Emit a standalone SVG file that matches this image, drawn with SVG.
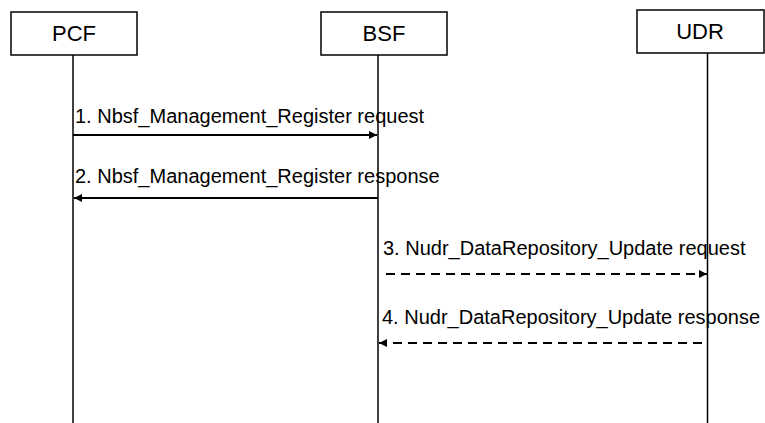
<svg xmlns="http://www.w3.org/2000/svg" width="765" height="423" viewBox="0 0 765 423">
<style>
.box{fill:#fff;stroke:#000;stroke-width:1.5}
.life{stroke:#000;stroke-width:1.5;fill:none}
.name{font-family:"Liberation Sans",Arial,sans-serif;font-size:22px;fill:#000;text-anchor:middle}
.lbl{font-family:"Liberation Sans",Arial,sans-serif;font-size:20px;fill:#000}
.msg{stroke:#000;stroke-width:2;fill:none}
.dash{stroke-dasharray:9 6}
</style>
<defs>
<marker id="ah" markerWidth="8" markerHeight="8" refX="8" refY="4" orient="auto" markerUnits="userSpaceOnUse">
<path d="M0,0 L8,4 L0,8 Z" fill="#000"/>
</marker>
</defs>
<g id="PCF">
<rect class="box" x="11" y="12" width="126" height="43"/>
<text class="name" x="74" y="41">PCF</text>
<line class="life" x1="73" y1="55" x2="73" y2="423"/>
</g>
<g id="BSF">
<rect class="box" x="321" y="12" width="126" height="43"/>
<text class="name" x="384" y="41">BSF</text>
<line class="life" x1="378" y1="55" x2="378" y2="423"/>
</g>
<g id="UDR">
<rect class="box" x="637" y="10" width="127" height="43"/>
<text class="name" x="700" y="39">UDR</text>
<line class="life" x1="707.5" y1="53" x2="707.5" y2="423"/>
</g>
<g id="connectors">
<line class="msg" x1="73" y1="135" x2="377" y2="135" marker-end="url(#ah)"/>
<text class="lbl" x="75" y="123">1. Nbsf_Management_Register request</text>
<line class="msg" x1="378" y1="198" x2="74" y2="198" marker-end="url(#ah)"/>
<text class="lbl" x="75" y="183">2. Nbsf_Management_Register response</text>
<line class="msg dash" x1="386" y1="274" x2="707" y2="274" marker-end="url(#ah)"/>
<text class="lbl" x="383" y="255">3. Nudr_DataRepository_Update request</text>
<line class="msg dash" x1="702" y1="343" x2="379" y2="343" marker-end="url(#ah)"/>
<text class="lbl" x="382" y="324">4. Nudr_DataRepository_Update response</text>
</g>
</svg>
